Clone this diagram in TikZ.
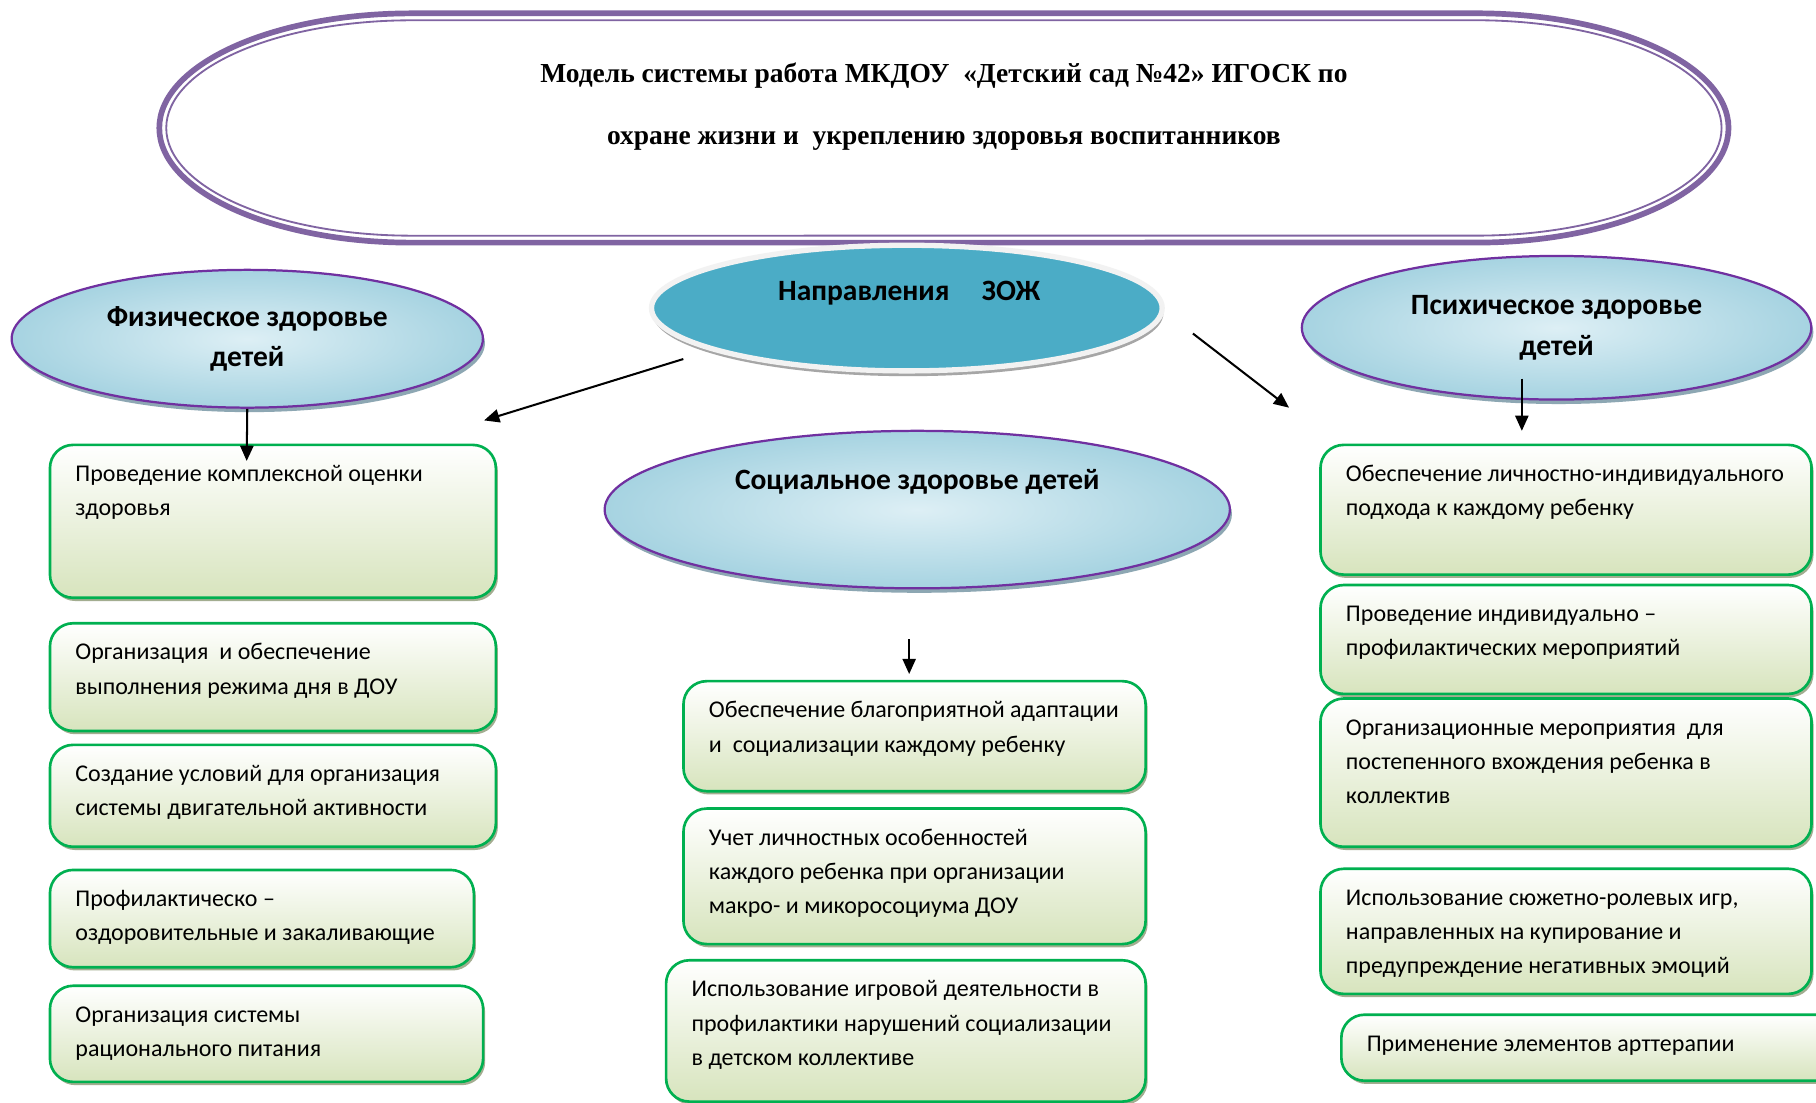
\documentclass[tikz,border=0pt]{standalone}
\usepackage{fontspec}
\setmainfont{Carlito}
\newfontfamily\titlefont{Liberation Serif}
\usetikzlibrary{arrows.meta,shapes.geometric,shadows}

\definecolor{framepurple}{HTML}{8064A2}
\definecolor{ovalpurple}{HTML}{7030A0}
\definecolor{ovalin}{HTML}{DDEFF5}
\definecolor{ovalout}{HTML}{A6D3E1}
\definecolor{ovalshadow}{HTML}{8DA7B3}
\definecolor{zojteal}{HTML}{4BACC6}
\definecolor{cardgreen}{HTML}{00B050}
\definecolor{cardbot}{HTML}{D7E4BD}
\definecolor{cardshadow}{HTML}{A3AD90}

% card: name, x, y, width, height, lines
\newcommand{\card}[6]{%
    \node[card, minimum width=#4*0.02cm, minimum height=#5*0.02cm] (#1) at (#2,#3)
        {\parbox[t][\dimexpr0.02cm*#5-0.44cm\relax][t]{\dimexpr0.02cm*#4-0.88cm\relax}%
            {\begin{tabular}[t]{@{}l@{}}#6\end{tabular}}};}

\begin{document}
\begin{tikzpicture}[
    x=0.02cm, y=-0.02cm,
    frame/.style={draw=framepurple, line width=2.8pt},
    frameinner/.style={draw=framepurple, line width=0.9pt},
    titletext/.style={align=center,
        font=\titlefont\bfseries\fontsize{13.5}{30.6}\selectfont},
    heading/.style={font=\bfseries\fontsize{14.5}{20}\selectfont},
    theme/.style={ellipse, draw=ovalpurple, line width=1.1pt,
        inner color=ovalin, outer color=ovalout, inner sep=0pt,
        align=center, heading,
        drop shadow={shadow xshift=1pt, shadow yshift=-2.2pt,
                     fill=ovalshadow, opacity=1}},
    zoj/.style={ellipse, fill=zojteal, draw=black!5, line width=2.6pt,
        inner sep=0pt,
        drop shadow={shadow xshift=0.6pt, shadow yshift=-2.6pt,
                     fill=black!35, opacity=1}},
    card/.style={rectangle, rounded corners=0.4cm, draw=cardgreen,
        line width=1.3pt, top color=white, bottom color=cardbot,
        middle color=cardbot!50!white, anchor=north west,
        inner xsep=0.44cm, inner ysep=0.22cm,
        font=\fontsize{11.8}{16.8}\selectfont,
        drop shadow={shadow xshift=1pt, shadow yshift=-1.6pt,
                     fill=cardshadow, opacity=1}},
    arr/.style={-{Triangle[length=7.5pt,width=6.5pt]}, line width=1pt},
    ]

    % Page
    \fill[white] (0,0) rectangle (1568,952);
    \useasboundingbox (0,0) rectangle (1568,952);

    % Title frame
    \draw[frame] (355.5,11.5) -- (1274.5,11.5)
        arc[start angle=90, end angle=-90, x radius=4.36cm, y radius=1.98cm]
        -- (355.5,209.5)
        arc[start angle=270, end angle=90, x radius=4.36cm, y radius=1.98cm]
        -- cycle;
    \draw[frameinner] (355.5,17.5) -- (1274.5,17.5)
        arc[start angle=90, end angle=-90, x radius=4.24cm, y radius=1.86cm]
        -- (355.5,203.5)
        arc[start angle=270, end angle=90, x radius=4.24cm, y radius=1.86cm]
        -- cycle;
    \node[titletext] (title) at (815,92)
        {Модель системы работа МКДОУ\ \ «Детский сад №42» ИГОСК по\\
         охране жизни и\ \ укреплению здоровья воспитанников};

    % Ovals
    \node[zoj, minimum width=8.82cm, minimum height=2.17cm] (zojOval) at (783,266) {};
    \node[heading] (zojTitle) at (785,253) {Направления\hspace{1.1em}ЗОЖ};

    \node[theme, minimum width=8.14cm, minimum height=2.38cm] (phys) at (213.5,292.5)
        {Физическое здоровье\\детей};
    \node[theme, minimum width=8.8cm, minimum height=2.48cm] (psy) at (1344,283)
        {Психическое здоровье\\детей};
    \node[theme, minimum width=10.8cm, minimum height=2.72cm] (soc) at (792,440) {};
    \node[heading] (socTitle) at (792,416) {Социальное здоровье детей};

    % Left column
    \card{physA}{42}{383}{385}{132}{Проведение комплексной оценки\\здоровья}
    \card{physB}{42}{537}{385}{93}{Организация\ \ и обеспечение\\выполнения режима дня в ДОУ}
    \card{physC}{42}{642}{385}{88}{Создание условий для организация\\системы двигательной активности}
    \card{physD}{42}{750}{366}{84}{Профилактическо –\\оздоровительные и закаливающие}
    \card{physE}{42}{850}{374}{83}{Организация системы\\рационального питания}

    % Middle column
    \card{socA}{589}{587}{399}{95}{Обеспечение благоприятной адаптации\\и\ \ социализации каждому ребенку}
    \card{socB}{589}{697}{399}{117}{Учет личностных особенностей\\каждого ребенка при организации\\макро- и микоросоциума ДОУ}
    \card{socC}{574}{828}{414}{122}{Использование игровой деятельности в\\профилактики нарушений социализации\\в детском коллективе}

    % Right column
    \card{psyA}{1139}{383}{424}{112}{Обеспечение личностно-индивидуального\\подхода к каждому ребенку}
    \card{psyB}{1139}{504}{424}{94}{Проведение индивидуально –\\профилактических мероприятий}
    \card{psyC}{1139}{602}{424}{128}{Организационные мероприятия\ \ для\\постепенного вхождения ребенка в\\коллектив}
    \card{psyD}{1139}{749}{424}{108}{Использование сюжетно-ролевых игр,\\направленных на купирование и\\предупреждение негативных эмоций}
    \card{psyE}{1157}{875}{440}{57}{Применение элементов арттерапии}

    % Arrows
    \coordinate (physTip) at (213,398);
    \coordinate (zojLeft) at (590,310);
    \coordinate (zojLeftTip) at (418,363);
    \coordinate (zojRight) at (1030,288);
    \coordinate (zojRightTip) at (1113,352);
    \coordinate (psyFoot) at (1314,327);
    \coordinate (psyTip) at (1314,372);
    \coordinate (socFoot) at (785,552);
    \coordinate (socTip) at (785,582);

    \draw[arr] (phys.south) -- (physTip);
    \draw[arr] (zojLeft) -- (zojLeftTip);
    \draw[arr] (zojRight) -- (zojRightTip);
    \draw[arr] (psyFoot) -- (psyTip);
    \draw[arr] (socFoot) -- (socTip);
\end{tikzpicture}
\end{document}
